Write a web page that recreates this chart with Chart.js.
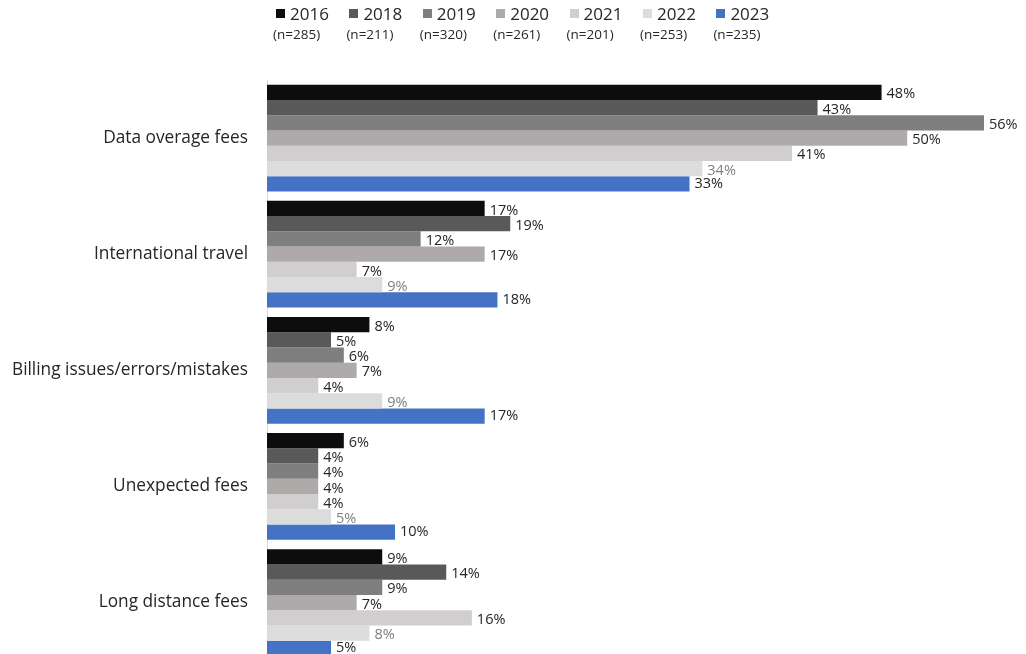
<!DOCTYPE html>
<html>
<head>
<meta charset="utf-8">
<script src="https://cdn.jsdelivr.net/npm/chart.js@4"></script>
<style>
  html, body { margin: 0; padding: 0; background: #fff; overflow: hidden; }
  #wrap { position: relative; width: 1026px; height: 654px; overflow: hidden; }
  #chart { position: absolute; left: 0; top: 0; }
  #legend { position: absolute; left: 0; top: 0; width: 1026px; height: 60px; font-family: "Open Sans", sans-serif; color: #262626; }
  .item { position: absolute; top: 3px; white-space: nowrap; }
  .sw { display: inline-block; width: 9px; height: 9px; margin-right: 5px; vertical-align: 2px; }
  .yr { font-size: 17px; line-height: 22px; }
  .n { font-size: 13.5px; line-height: 16px; margin-left: -3px; margin-top: 1px; }
</style>
</head>
<body>
<div id="wrap">
  <!-- canvas runs a bit past the bottom edge so the last group sits flush -->
  <canvas id="chart" width="1026" height="682"></canvas>
  <div id="legend"></div>
</div>
<script>
const categories = [
  "Data overage fees",
  "International travel",
  "Billing issues/errors/mistakes",
  "Unexpected fees",
  "Long distance fees"
];
const years = ["2016", "2018", "2019", "2020", "2021", "2022", "2023"];
const sampleSizes = [285, 211, 320, 261, 201, 253, 235];

// percent per category, one array per survey year
const y2016 = [48, 17, 8, 6, 9];
const y2018 = [43, 19, 5, 4, 14];
const y2019 = [56, 12, 6, 4, 9];
const y2020 = [50, 17, 7, 4, 7];
const y2021 = [41, 7, 4, 4, 16];
const y2022 = [34, 9, 9, 5, 8];
const y2023 = [33, 18, 17, 10, 5];

const series = [y2016, y2018, y2019, y2020, y2021, y2022, y2023];
const colors = ["#0d0d0d", "#595959", "#7f7f7f", "#aeaaaa", "#d0cece", "#dcdcdc", "#4472c4"];
const labelColors = ["#262626", "#262626", "#262626", "#262626", "#262626", "#7f7f7f", "#262626"];

// legend: square + year, sample size underneath
const legend = document.getElementById("legend");
years.forEach((y, i) => {
  const d = document.createElement("div");
  d.className = "item";
  d.style.left = (276 + i * 73.4) + "px";
  d.innerHTML = `<div class="yr"><span class="sw" style="background:${colors[i]}"></span>${y}</div>` +
    `<div class="n">(n=${sampleSizes[i]})</div>`;
  legend.appendChild(d);
});

// value labels at the end of each bar
const valueLabels = {
  id: "valueLabels",
  afterDatasetsDraw(chart) {
    const ctx = chart.ctx;
    ctx.save();
    ctx.font = "14.5px 'Open Sans', sans-serif";
    ctx.textBaseline = "middle";
    ctx.textAlign = "left";
    chart.data.datasets.forEach((ds, i) => {
      const meta = chart.getDatasetMeta(i);
      ctx.fillStyle = labelColors[i];
      meta.data.forEach((bar, j) => {
        const dy = i === 6 ? 0 : 2;
        ctx.fillText(ds.data[j] + "%", bar.x + 5, bar.y + dy);
      });
    });
    ctx.restore();
  }
};

new Chart(document.getElementById("chart"), {
  type: "bar",
  data: {
    labels: categories,
    datasets: years.map((y, i) => ({
      label: y,
      data: series[i],
      backgroundColor: colors[i],
      borderWidth: 0,
      categoryPercentage: 0.92,
      barPercentage: 1
    }))
  },
  options: {
    indexAxis: "y",
    responsive: false,
    animation: false,
    layout: { padding: { top: 80, right: 42, bottom: 0, left: 0 } },
    plugins: {
      legend: { display: false },
      tooltip: { enabled: false }
    },
    scales: {
      x: { display: false, min: 0, max: 56 },
      y: {
        afterFit(scale) { scale.width = 267; },
        grid: { display: false },
        border: { display: true, color: "#d9d9d9", width: 1 },
        ticks: {
          color: "#262626",
          padding: 11,
          font: { family: "'Open Sans', sans-serif", size: 17.3 }
        }
      }
    }
  },
  plugins: [valueLabels]
});
</script>
</body>
</html>
